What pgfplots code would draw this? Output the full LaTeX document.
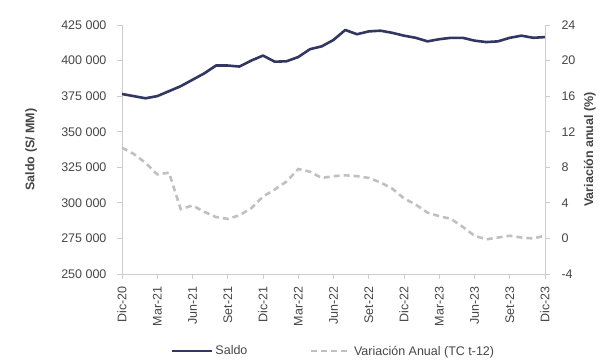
\documentclass[border=0pt]{standalone}
\usepackage{pgfplots}
\pgfplotsset{compat=1.18}
\usepackage{fontspec}
\setmainfont{Liberation Sans}
\definecolor{saldo}{RGB}{50,55,98}
\definecolor{varc}{RGB}{192,192,192}
\definecolor{txt}{RGB}{70,70,70}
\definecolor{axc}{RGB}{205,205,205}
\pgfplotstableread{
i saldo var
0 376500 10.2
1 375000 9.5
2 373500 8.5
3 375000 7.2
4 378500 7.4
5 382000 3.3
6 386500 3.7
7 391000 3.0
8 396500 2.4
9 396500 2.2
10 395800 2.6
11 400000 3.4
12 403500 4.7
13 399200 5.5
14 399500 6.4
15 402500 7.8
16 408000 7.5
17 410000 6.8
18 414500 7.0
19 421500 7.1
20 418500 7.0
21 420500 6.8
22 421000 6.3
23 419500 5.6
24 417500 4.5
25 416000 3.8
26 413500 2.9
27 415000 2.5
28 416000 2.2
29 416000 1.3
30 414000 0.3
31 413000 -0.1
32 413500 0.1
33 416000 0.3
34 417500 0.1
35 416000 0.0
36 416500 0.3
}\datatab
\begin{document}
\begin{tikzpicture}
\pgfplotsset{
  every axis/.append style={
    scale only axis, width=423pt, height=249pt,
    xmin=0, xmax=36,
    tick align=outside, major tick length=5pt,
    tick style={axc, line width=0.8pt},
    axis line style={axc, line width=0.8pt},
    tick label style={font=\fontsize{12.5}{15}\selectfont, text=txt},
    label style={font=\fontsize{12.5}{15}\selectfont\bfseries, text=txt},
  }
}
\begin{axis}[
  axis y line*=left, axis x line*=bottom,
  ymin=250000, ymax=425000,
  ytick={250000,275000,300000,325000,350000,375000,400000,425000},
  yticklabels={250 000,275 000,300 000,325 000,350 000,375 000,400 000,425 000},
  yticklabel style={xshift=-7pt},
  scaled y ticks=false,
  xtick={0,3,...,36},
  xticklabels={Dic-20,Mar-21,Jun-21,Set-21,Dic-21,Mar-22,Jun-22,Set-22,Dic-22,Mar-23,Jun-23,Set-23,Dic-23},
  xticklabel style={rotate=90, anchor=east, xshift=-4pt},
  ylabel={Saldo (S/ MM)},
  ylabel style={at={(axis description cs:-0.215,0.5)}, anchor=center},
]
\coordinate (sw) at (rel axis cs:0,0);
\addplot[saldo, line width=2.6pt, line join=round] table[x=i, y=saldo] {\datatab};
\end{axis}
\begin{axis}[
  axis y line*=right, axis x line=none,
  ymin=-4, ymax=24, ytick={-4,0,4,8,12,16,20,24},
  yticklabels={-4,0,4,8,12,16,20,24},
  yticklabel style={xshift=8pt},
  ylabel={Variación anual (\%)},
  ylabel style={at={(axis description cs:1.106,0.5)}, anchor=center},
  legend style={at={(axis description cs:0.5,-0.31)}, anchor=center, draw=none, fill=none,
    legend columns=2, font=\fontsize{12.5}{15}\selectfont, text=txt,
    /tikz/every even column/.append style={column sep=60pt}},
  legend image code/.code={\draw[#1] (0pt,0pt) -- (40pt,0pt);},
]
\addlegendimage{saldo, line width=2.6pt}
\addlegendentry{Saldo}
\addplot[varc, line width=2.6pt, dash pattern=on 6pt off 4pt] table[x=i, y=var] {\datatab};
\addlegendentry{Variación Anual (TC t-12)}
\end{axis}
\pgfresetboundingbox
\useasboundingbox (sw) ++(-122pt,-89pt) rectangle ++(605pt,363pt);
\end{tikzpicture}
\end{document}
